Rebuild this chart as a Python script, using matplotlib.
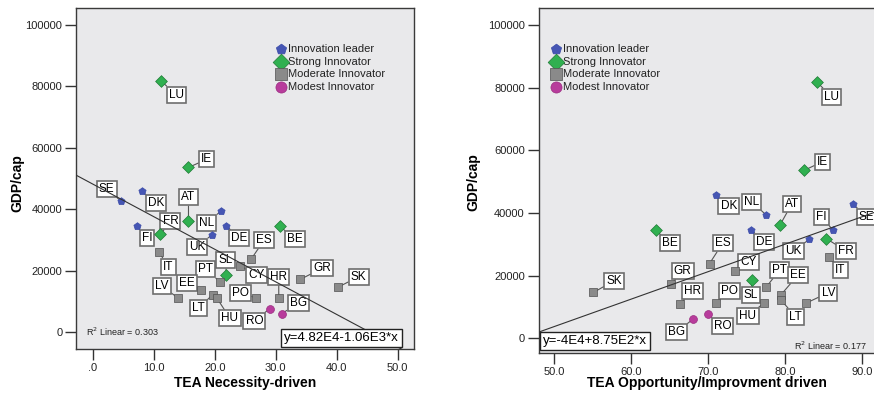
import matplotlib
matplotlib.use("Agg")
import matplotlib.pyplot as plt
from matplotlib.ticker import FuncFormatter

plt.rcParams['font.family'] = ['Liberation Sans', 'DejaVu Sans']

# Daten
countries = ['SE', 'DK', 'NL', 'FI', 'DE', 'UK',
             'FR', 'AT', 'BE', 'SL', 'LU', 'IE',
             'ES', 'IT', 'CY', 'PT', 'EE', 'LV', 'LT', 'HU', 'PO', 'HR', 'GR', 'SK',
             'RO', 'BG']
group = ['Innovation leader'] * 6 + ['Strong Innovator'] * 6 + ['Moderate Innovator'] * 12 + ['Modest Innovator'] * 2
gdp_cap = [42750, 45800, 39500, 34670, 34670, 31600,
           31800, 36300, 34500, 18500, 81700, 53600,
           23850, 25950, 21530, 16400, 13900, 11150, 12200, 11300, 11200, 11000, 17170, 14650,
           7650, 6030]
tea_necessity = [4.6, 8.1, 21.1, 7.2, 21.9, 19.5,
                 11.1, 15.7, 30.7, 21.9, 11.2, 15.7,
                 26.0, 10.9, 24.2, 20.9, 17.7, 14.0, 19.65, 20.3, 26.7, 30.5, 34.0, 40.2,
                 29.0, 30.95]
tea_opportunity = [88.9, 71.0, 77.5, 86.2, 75.6, 83.2,
                   85.4, 79.4, 63.2, 75.7, 84.2, 82.5,
                   70.2, 85.7, 73.5, 77.6, 79.5, 82.7, 79.5, 77.3, 71.1, 66.4, 65.2, 55.1,
                   70.0, 68.0]

# Lage der Beschriftungen (Datenkoordinaten)
labels_left = {
    'SE': (2.3, 46590), 'DK': (10.4, 41940), 'NL': (18.7, 35640), 'FI': (8.9, 30760),
    'DE': (24.0, 30540), 'UK': (17.1, 27840), 'FR': (12.75, 36090), 'AT': (15.7, 43890),
    'BE': (33.1, 30230), 'SL': (21.8, 23500), 'LU': (13.7, 77240), 'IE': (18.7, 56240),
    'ES': (28.1, 30000), 'IT': (12.4, 21340), 'CY': (26.9, 18640), 'PT': (18.5, 20480),
    'EE': (15.4, 15930), 'LV': (11.3, 15060), 'LT': (17.3, 7800), 'HU': (22.5, 4550),
    'PO': (24.2, 12880), 'HR': (30.5, 18090), 'GR': (37.6, 20800), 'SK': (43.6, 18090),
    'RO': (26.5, 3680), 'BG': (33.7, 9430),
}
labels_right = {
    'SE': (90.65, 38810), 'DK': (72.7, 42230), 'NL': (75.7, 43600), 'FI': (84.8, 38810),
    'DE': (77.3, 30850), 'UK': (81.1, 27860), 'FR': (88.0, 27860), 'AT': (80.9, 42870),
    'BE': (65.1, 30320), 'SL': (75.6, 13820), 'LU': (86.1, 77110), 'IE': (84.9, 56370),
    'ES': (71.9, 30320), 'IT': (87.2, 21800), 'CY': (75.3, 24450), 'PT': (79.3, 21800),
    'EE': (81.7, 20200), 'LV': (85.65, 14560), 'LT': (81.4, 6900), 'HU': (75.2, 7120),
    'PO': (72.8, 15100), 'HR': (68.0, 15100), 'GR': (66.7, 21580), 'SK': (57.8, 18390),
    'RO': (71.9, 3930), 'BG': (65.9, 1920),
}

fit_left = (48200, -1060)    # y = a + b*x
fit_right = (-40000, 875)
r2_left = 0.303
r2_right = 0.177

styles = {
    'Innovation leader': dict(marker='p', color='#4656b4', s=30, edgecolor='#3a4aa8'),
    'Strong Innovator': dict(marker='D', color='#30b050', s=36, edgecolor='#1f7a35'),
    'Moderate Innovator': dict(marker='s', color='#8a8a8a', s=32, edgecolor='#505050'),
    'Modest Innovator': dict(marker='o', color='#b83c9c', s=32, edgecolor='#9a2c80'),
}

fig = plt.figure(figsize=(8.74, 4.01), dpi=100)
ax1 = fig.add_axes([76.3 / 874, 52 / 401, 337.7 / 874, 341 / 401])
ax2 = fig.add_axes([538.7 / 874, 48.3 / 401, 341.3 / 874, 344.7 / 401])


def zeichne(ax, xwerte, beschr, fit, r2, xlabel, xlim, ylim, ticks, legend_x, r2_pos, r2_ha, eq_pos, eq_ha):
    ax.set_facecolor('#e9e9eb')
    ax.set_xlim(*xlim)
    ax.set_ylim(*ylim)
    for g, st in styles.items():
        xs = [x for x, gg in zip(xwerte, group) if gg == g]
        ys = [y for y, gg in zip(gdp_cap, group) if gg == g]
        ax.scatter(xs, ys, marker=st['marker'], s=st['s'], color=st['color'],
                   edgecolors=st['edgecolor'], linewidths=0.5, zorder=4)
    for c, x, y in zip(countries, xwerte, gdp_cap):
        lx, ly = beschr[c]
        ax.annotate(c, xy=(x, y), xytext=(lx, ly), textcoords='data',
                    ha='center', va='center', fontsize=8.5, color='black',
                    bbox=dict(boxstyle='square,pad=0.18', fc='white', ec='#6e6e6e', lw=1.2),
                    arrowprops=dict(arrowstyle='-', color='#555555', lw=0.8,
                                    shrinkA=0, shrinkB=0),
                    zorder=3, annotation_clip=False)
    a, b = fit
    ax.plot(list(xlim), [a + b * xlim[0], a + b * xlim[1]], color='#333333', lw=0.8, zorder=5)

    # Legende
    for i, (g, st) in enumerate(styles.items()):
        yy = 1 - (41 + 12.7 * i) / ax.bbox.height
        ax.scatter([legend_x], [yy], transform=ax.transAxes, marker=st['marker'],
                   s=st['s'] * 2.0, color=st['color'], edgecolors=st['edgecolor'],
                   linewidths=0.5, zorder=6, clip_on=False)
        ax.text(legend_x + 7 / ax.bbox.width, yy, g, transform=ax.transAxes,
                fontsize=8, va='center', ha='left', color='#222222')

    ax.text(r2_pos[0], r2_pos[1], r'R$^2$ Linear = %.3f' % r2, transform=ax.transAxes,
            fontsize=6.5, va='center', ha=r2_ha, color='#222222')
    eq = 'y=%s' % ('4.82E4-1.06E3*x' if b < 0 else '-4E4+8.75E2*x')
    ax.text(eq_pos[0], eq_pos[1], eq, transform=ax.transAxes, fontsize=9.5, va='center',
            ha=eq_ha, zorder=7,
            bbox=dict(boxstyle='square,pad=0.22', fc='white', ec='#222222', lw=1.0))

    ax.set_xticks(ticks)
    ax.xaxis.set_major_formatter(FuncFormatter(lambda v, p: '.0' if v == 0 else '%.1f' % v))
    ax.set_yticks([0, 20000, 40000, 60000, 80000, 100000])
    ax.tick_params(direction='out', length=8, width=1, color='#333333', labelsize=8,
                   labelcolor='#222222', pad=2)
    for sp in ax.spines.values():
        sp.set_color('#3a3a3a')
        sp.set_linewidth(1.0)
    ax.set_xlabel(xlabel, fontsize=10, fontweight='bold')
    ax.set_ylabel('GDP/cap', fontsize=10, fontweight='bold')


zeichne(ax1, tea_necessity, labels_left, fit_left, r2_left, 'TEA Necessity-driven',
        (-2.69, 52.67), (-5430, 105430), [0, 10, 20, 30, 40, 50], 0.606,
        (0.03, 0.05), 'left', (0.615, 0.032), 'left')
zeichne(ax2, tea_opportunity, labels_right, fit_right, r2_right, 'TEA Opportunity/Improvment driven',
        (47.97, 92.38), (-4600, 105430), [50, 60, 70, 80, 90], 0.05,
        (0.96, 0.02), 'right', (0.012, 0.033), 'left')

ax1.yaxis.set_label_coords(-52.3 / 337.7, 0.487)
ax2.yaxis.set_label_coords(-58.7 / 341.3, 0.495)
ax1.xaxis.set_label_coords(0.5, -27 / 341)
ax2.xaxis.set_label_coords(0.493, -23.3 / 344.7)

fig.savefig('out.png', dpi=100)
